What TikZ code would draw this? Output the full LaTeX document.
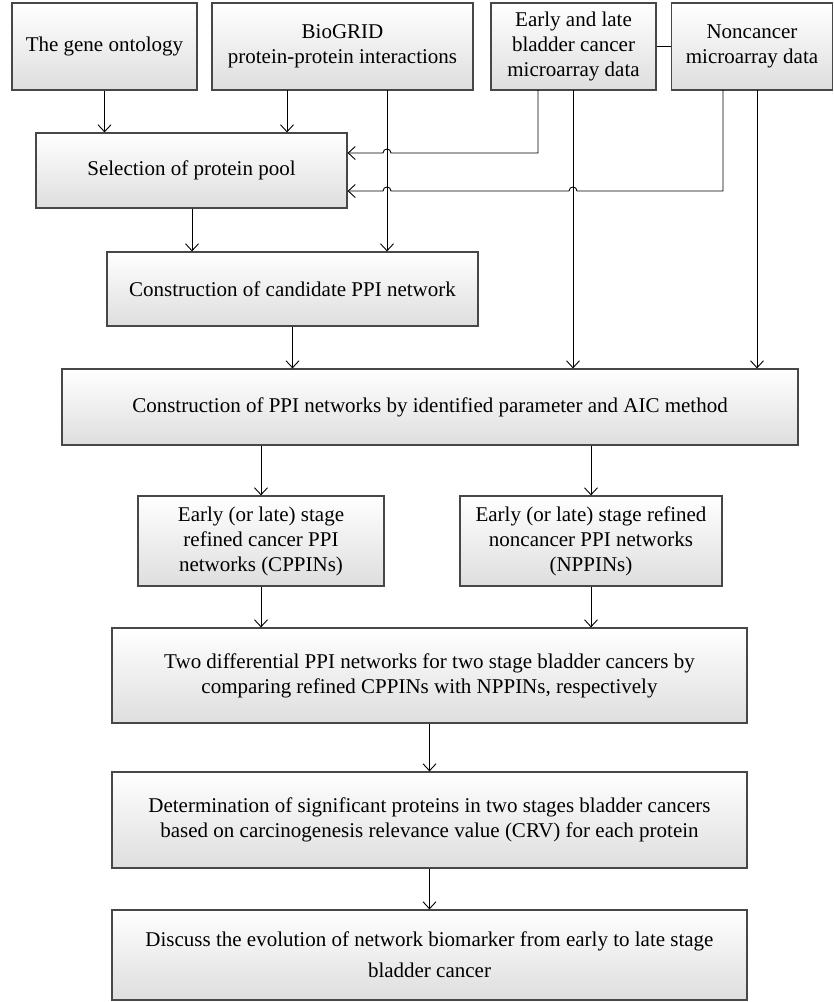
\documentclass[tikz,border=0pt]{standalone}
\usepackage{fontspec}
\setmainfont{Liberation Serif}
\usetikzlibrary{arrows.meta,calc}
\begin{document}
\begin{tikzpicture}[x=1pt,y=-1pt,
 box/.style={draw=black!72, line width=1.2pt, top color=white, bottom color=black!13, align=center, inner sep=0pt, font=\fontsize{21}{25}\selectfont},
 arr/.style={-{Straight Barb[length=7pt,width=13pt]}, line width=0.9pt},
 ln/.style={line width=0.9pt}]
\useasboundingbox (0,0) rectangle (834,1002);
% top row
\node[box, minimum width=185pt, minimum height=87pt] (go) at (104.5,46.5) {The gene ontology};
\node[box, minimum width=261pt, minimum height=87pt] (bio) at (342.5,46.5) {BioGRID\\protein-protein interactions};
\node[box, minimum width=165pt, minimum height=87pt] (el) at (573.5,46.5) {Early and late\\bladder cancer\\microarray data};
\node[box, minimum width=161pt, minimum height=87pt] (nc) at (752,46.5) {Noncancer\\microarray data};
% middle
\node[box, minimum width=311pt, minimum height=75pt] (sel) at (191.5,170.5) {Selection of protein pool};
\node[box, minimum width=371pt, minimum height=74pt] (cand) at (292.5,289) {Construction of candidate PPI network};
\node[box, minimum width=736pt, minimum height=76pt] (ppi) at (430,407) {Construction of PPI networks by identified parameter and AIC method};
\node[box, minimum width=246pt, minimum height=90pt] (cp) at (261,541) {Early (or late) stage\\refined cancer PPI\\networks (CPPINs)};
\node[box, minimum width=262pt, minimum height=90pt] (np) at (591,541) {Early (or late) stage refined\\noncancer PPI networks\\(NPPINs)};
\node[box, minimum width=635pt, minimum height=95pt] (two) at (429.5,675.5) {Two differential PPI networks for two stage bladder cancers by\\comparing refined CPPINs with NPPINs, respectively};
\node[box, minimum width=635pt, minimum height=96pt] (det) at (429.5,820) {Determination of significant proteins in two stages bladder cancers\\based on carcinogenesis relevance value (CRV) for each protein};
\node[box, minimum width=635pt, minimum height=90pt, font=\fontsize{21}{31}\selectfont] (dis) at (429.5,955) {Discuss the evolution of network biomarker from early to late stage\\bladder cancer};
% helper coordinates
\coordinate (bioA) at (287,90);
\coordinate (bioB) at (387,90);
\coordinate (elA) at (538,90);
\coordinate (elB) at (573,90);
\coordinate (ncA) at (723,90);
\coordinate (ncB) at (757,90);
\path (sel.east) ++(0,-17.5) coordinate (s1);
\path (sel.east) ++(0,20.5) coordinate (s2);
% connectors
\draw[ln] (el.east) -- (nc.west);
\draw[arr] (go.south) -- (go.south |- sel.north);
\draw[arr] (bioA) -- (bioA |- sel.north);
\draw[arr] (bioB) -- (bioB |- cand.north);
\draw[arr] (elA) -- (538,153) -- (391,153) .. controls (391,147.7) and (383,147.7) .. (383,153) -- (s1);
\draw[arr] (ncA) -- (723,191) -- (577,191) .. controls (577,185.7) and (569,185.7) .. (569,191) -- (391,191) .. controls (391,185.7) and (383,185.7) .. (383,191) -- (s2);
\draw[arr] (elB) -- (elB |- ppi.north);
\draw[arr] (ncB) -- (ncB |- ppi.north);
\draw[arr] (sel.south -| 192,0) -- (192,0 |- cand.north);
\draw[arr] (cand.south) -- (cand.south |- ppi.north);
\draw[arr] (ppi.south -| cp.north) -- (cp.north);
\draw[arr] (ppi.south -| np.north) -- (np.north);
\draw[arr] (cp.south) -- (cp.south |- two.north);
\draw[arr] (np.south) -- (np.south |- two.north);
\draw[arr] (two.south) -- (det.north);
\draw[arr] (det.south) -- (dis.north);
\end{tikzpicture}
\end{document}
